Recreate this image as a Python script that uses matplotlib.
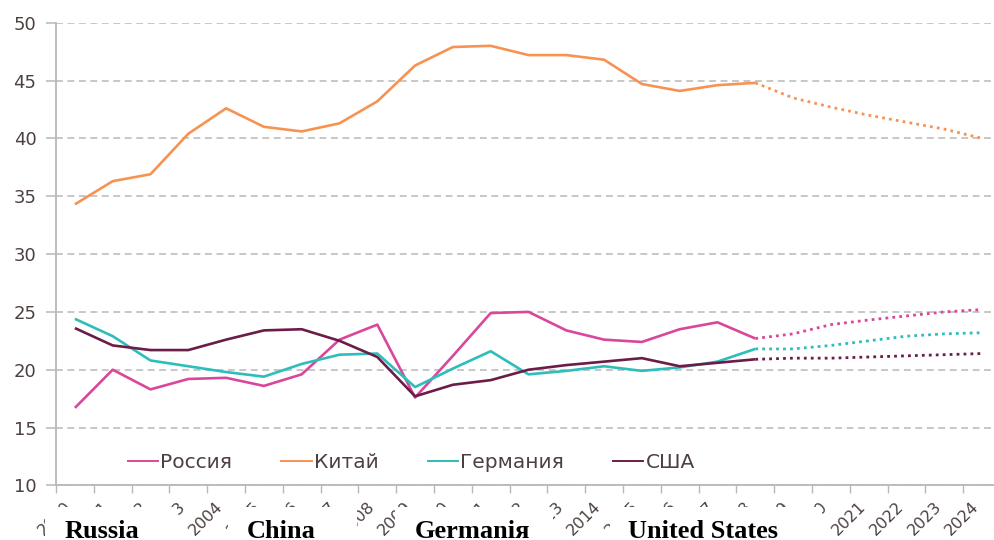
import matplotlib
matplotlib.use("Agg")
import matplotlib.pyplot as plt
from matplotlib.patches import Rectangle

years = list(range(2000, 2025))
last_actual = 2018

russia = [16.7, 20.0, 18.3, 19.2, 19.3, 18.6, 19.6, 22.6, 23.9, 17.6, 21.2, 24.9,
          25.0, 23.4, 22.6, 22.4, 23.5, 24.1, 22.7, 23.1, 23.9, 24.3, 24.65, 25.0, 25.2]
china = [34.3, 36.3, 36.9, 40.4, 42.6, 41.0, 40.6, 41.3, 43.2, 46.3, 47.9, 48.0,
         47.2, 47.2, 46.8, 44.7, 44.1, 44.6, 44.8, 43.5, 42.7, 42.0, 41.4, 40.8, 40.0]
germany = [24.4, 22.9, 20.8, 20.3, 19.8, 19.4, 20.5, 21.3, 21.4, 18.5, 20.1, 21.6,
           19.6, 19.9, 20.3, 19.9, 20.2, 20.7, 21.8, 21.8, 22.1, 22.5, 22.9, 23.1, 23.2]
usa = [23.6, 22.1, 21.7, 21.7, 22.6, 23.4, 23.5, 22.5, 21.1, 17.7, 18.7, 19.1,
       20.0, 20.4, 20.7, 21.0, 20.3, 20.6, 20.9, 21.0, 21.0, 21.1, 21.2, 21.3, 21.4]

series = [
    ("Россия", russia, "#D9479B"),
    ("Китай", china, "#F79352"),
    ("Германия", germany, "#2DBEBB"),
    ("США", usa, "#6B1C48"),
]

overlay_labels = ["Russia", "China", "Germaniя", "United States"]

text_color = "#4d4040"
grid_color = "#b8b8b8"

fig = plt.figure(figsize=(9.94, 5.40), dpi=100)
ax = fig.add_axes([56 / 994, 54.6 / 540, 945 / 994, 462.7 / 540])

x = list(range(len(years)))
split = years.index(last_actual)

handles = []
for name, vals, color in series:
    ax.plot(x[:split + 1], vals[:split + 1], color=color, lw=1.9,
            solid_capstyle="butt", zorder=3)
    ax.plot(x[split:], vals[split:], color=color, lw=2.0,
            dashes=(1, 1.5), zorder=3)
    handles.append(plt.Line2D([0], [0], color=color, lw=1.4, label=name))

ax.set_xlim(-0.5, len(years) - 0.5)
ax.set_ylim(10, 50)
ax.set_yticks(range(10, 51, 5))
ax.yaxis.grid(True, linestyle=(0, (4.5, 3)), color=grid_color, lw=1.1)
ax.set_axisbelow(True)

ax.set_xticks(x)
ax.set_xticklabels([str(y) for y in years], rotation=45, ha="right",
                   va="bottom", rotation_mode="anchor", fontsize=11.5,
                   color=text_color)
ax.set_xticks([i - 0.5 for i in x] + [len(years) - 0.5], minor=True)
ax.tick_params(axis="x", which="major", length=0, pad=17.5)
ax.tick_params(axis="x", which="minor", length=6, color=grid_color, width=1)
ax.tick_params(axis="y", length=7, color=grid_color, width=1.1,
               labelsize=13, labelcolor=text_color, pad=7)

for side in ("top", "right"):
    ax.spines[side].set_visible(False)
for side in ("left", "bottom"):
    ax.spines[side].set_color(grid_color)
    ax.spines[side].set_linewidth(1.3)

ax.legend(handles=handles, loc="center", bbox_to_anchor=(0.376, 0.05),
          ncol=4, frameon=False, fontsize=14.5, handlelength=1.5,
          handletextpad=0.1, columnspacing=2.45, labelcolor=text_color)

# white boxes with overlaid captions at the bottom
boxes = [(45, 177), (228, 357), (395, 553), (610, 822)]
centers = [102, 281, 472, 703]
for (x0, x1), cx, label in zip(boxes, centers, overlay_labels):
    fig.add_artist(Rectangle((x0 / 994, 0), (x1 - x0) / 994, 33 / 540,
                             transform=fig.transFigure, facecolor="white",
                             edgecolor="none", zorder=5))
    fig.text(cx / 994, 2 / 540, label, ha="center", va="baseline",
             fontsize=19, fontweight="bold", family="Liberation Serif",
             color="black", zorder=6)

fig.savefig("out.png", dpi=100)
